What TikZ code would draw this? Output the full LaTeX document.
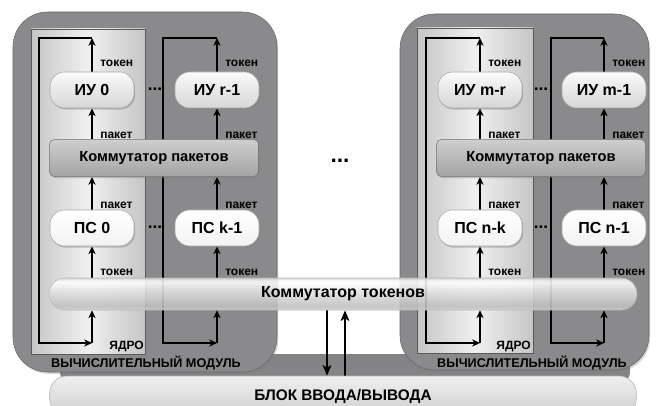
\documentclass[tikz,border=0pt]{standalone}
\usepackage{fontspec}
\setmainfont{Liberation Sans}
\usetikzlibrary{shadows,backgrounds,arrows.meta}

\definecolor{modgray}{RGB}{138,138,141}
\definecolor{bandgray}{RGB}{132,132,134}

% glossy bar for the token switch (stops 25bp..75bp are visible)
\pgfdeclareverticalshading{tokbar}{100bp}{color(0bp)=(gray!35); color(25bp)=(gray!35);
  color(31bp)=(gray!50); color(40bp)=(gray!40); color(55bp)=(gray!22);
  color(68bp)=(white); color(72bp)=(gray!10); color(75bp)=(gray!35); color(100bp)=(gray!35)}

\begin{document}
\begin{tikzpicture}[x=0.75pt,y=-0.75pt,>={Stealth[length=6pt,width=5.5pt,inset=2pt]},
  modul/.style={draw=black!60,fill=modgray,rounded corners=26pt,
    drop shadow={opacity=0.3,shadow xshift=1pt,shadow yshift=-1.5pt}},
  yadro/.style={draw=black!65,left color=gray!45,right color=gray!45,middle color=gray!12},
  iu/.style={draw=black!35,rounded corners=11pt,top color=gray!4,bottom color=gray!32,
    minimum width=63pt,minimum height=27pt,
    drop shadow={opacity=0.45,shadow xshift=0.8pt,shadow yshift=-1.2pt},
    font=\fontsize{12}{14}\selectfont\bfseries},
  ps/.style={iu,top color=white,bottom color=gray!10},
  pkt/.style={draw=black!55,rounded corners=4pt,top color=gray!38,bottom color=gray!72,
    minimum width=157pt,minimum height=28pt,
    drop shadow={opacity=0.35,shadow xshift=0.8pt,shadow yshift=-1.2pt},
    font=\fontsize{11}{13}\selectfont\bfseries},
  tok/.style={draw=gray!55,rounded corners=12pt,shading=tokbar,fill opacity=0.88,text opacity=1,
    minimum width=441pt,minimum height=24pt,font=\fontsize{12}{14}\selectfont\bfseries},
  io/.style={draw=gray!60,rounded corners=13pt,top color=gray!12,bottom color=gray!38,
    minimum width=440pt,minimum height=30pt,font=\fontsize{11.5}{13}\selectfont\bfseries},
  lbl/.style={anchor=west,inner sep=0pt,font=\fontsize{9}{10}\selectfont\bfseries},
  dots/.style={inner sep=0pt,font=\fontsize{13}{15}\selectfont\bfseries},
  wire/.style={line width=0.8pt}]
\useasboundingbox (0,0) rectangle (657,406);

% modules and cores
\begin{pgfonlayer}{background}
\fill[bandgray,rounded corners=10pt] (60,354) rectangle (630,385);
\draw[modul] (13,12) rectangle (277,372);
\draw[modul] (400,14) rectangle (649,370);
\draw[yadro] (31,29) rectangle (145,354);
\draw[yadro] (417,28) rectangle (533,353);
\end{pgfonlayer}

% units
\node[iu] (iu0) at (92,90) {ИУ 0};
\node[iu] (iur) at (217,90) {ИУ r-1};
\node[iu] (iumr) at (480,90) {ИУ m-r};
\node[iu] (ium) at (604,90) {ИУ m-1};
\node[ps] (ps0) at (92,228) {ПС 0};
\node[ps] (psk) at (217,228) {ПС k-1};
\node[ps] (psnk) at (480,228) {ПС n-k};
\node[ps] (psn) at (604,228) {ПС n-1};
\node[pkt] (pkL) at (154,158) {Коммутатор пакетов};
\node[pkt] (pkR) at (541,158) {Коммутатор пакетов};
\node[tok] (tok) at (343,294) {Коммутатор токенов};
\node[io] (io) at (343,396) {БЛОК ВВОДА/ВЫВОДА};

\coordinate (tA) at (92,38);  \coordinate (bA) at (92,343);
\coordinate (tB) at (217,38); \coordinate (bB) at (217,343);
\coordinate (tC) at (480,38); \coordinate (bC) at (480,343);
\coordinate (tD) at (604,38); \coordinate (bD) at (604,343);

% token and packet flow
\begin{pgfonlayer}{background}
\draw[wire,->] (iu0.north) -- (tA);
\draw[wire,->] (tA) -- ++(-53,0) |- (bA);
\draw[wire,->] (bA) -- (bA |- tok.south);
\draw[wire,->] (ps0.south |- tok.north) -- (ps0.south);
\draw[wire,->] (ps0.north) -- (ps0.north |- pkL.south);
\draw[wire,->] (iu0.south |- pkL.north) -- (iu0.south);

\draw[wire,->] (iur.north) -- (tB);
\draw[wire,->] (tB) -- ++(-54,0) |- (bB);
\draw[wire,->] (bB) -- (bB |- tok.south);
\draw[wire,->] (psk.south |- tok.north) -- (psk.south);
\draw[wire,->] (psk.north) -- (psk.north |- pkL.south);
\draw[wire,->] (iur.south |- pkL.north) -- (iur.south);

\draw[wire,->] (iumr.north) -- (tC);
\draw[wire,->] (tC) -- ++(-54,0) |- (bC);
\draw[wire,->] (bC) -- (bC |- tok.south);
\draw[wire,->] (psnk.south |- tok.north) -- (psnk.south);
\draw[wire,->] (psnk.north) -- (psnk.north |- pkR.south);
\draw[wire,->] (iumr.south |- pkR.north) -- (iumr.south);

\draw[wire,->] (ium.north) -- (tD);
\draw[wire,->] (tD) -- ++(-53,0) |- (bD);
\draw[wire,->] (bD) -- (bD |- tok.south);
\draw[wire,->] (psn.south |- tok.north) -- (psn.south);
\draw[wire,->] (psn.north) -- (psn.north |- pkR.south);
\draw[wire,->] (ium.south |- pkR.north) -- (ium.south);

% link to the I/O block
\draw[line width=1.5pt,-{Stealth[length=8pt,width=6.5pt,inset=2pt]}] (tok.south -| 327,0) -- (io.north -| 327,0);
\draw[line width=1.5pt,-{Stealth[length=8pt,width=6.5pt,inset=2pt]}] (io.north -| 345,0) -- (tok.south -| 345,0);
\end{pgfonlayer}

% labels
\node[lbl] at (100,63) {токен};  \node[lbl] at (225,63) {токен};
\node[lbl] at (488,63) {токен};  \node[lbl] at (612,63) {токен};
\node[lbl] at (100,135) {пакет}; \node[lbl] at (225,135) {пакет};
\node[lbl] at (488,135) {пакет}; \node[lbl] at (612,135) {пакет};
\node[lbl] at (100,205) {пакет}; \node[lbl] at (225,205) {пакет};
\node[lbl] at (488,205) {пакет}; \node[lbl] at (612,205) {пакет};
\node[lbl] at (100,272) {токен}; \node[lbl] at (225,272) {токен};
\node[lbl] at (488,272) {токен}; \node[lbl] at (612,272) {токен};

\node[dots] at (155,89) {...};
\node[dots] at (155,227) {...};
\node[dots] at (541,89) {...};
\node[dots] at (541,227) {...};
\node[dots,font=\fontsize{17}{19}\selectfont\bfseries] at (340,161) {...};

\node[lbl,anchor=east,font=\fontsize{9}{10}\selectfont\bfseries] at (144,347) {ЯДРО};
\node[lbl,anchor=east,font=\fontsize{9}{10}\selectfont\bfseries] at (531,347) {ЯДРО};
\node[lbl,anchor=center,font=\fontsize{9.5}{11}\selectfont\bfseries] at (146,363) {ВЫЧИСЛИТЕЛЬНЫЙ МОДУЛЬ};
\node[lbl,anchor=center,font=\fontsize{9.5}{11}\selectfont\bfseries] at (532,363) {ВЫЧИСЛИТЕЛЬНЫЙ МОДУЛЬ};
\end{tikzpicture}
\end{document}
